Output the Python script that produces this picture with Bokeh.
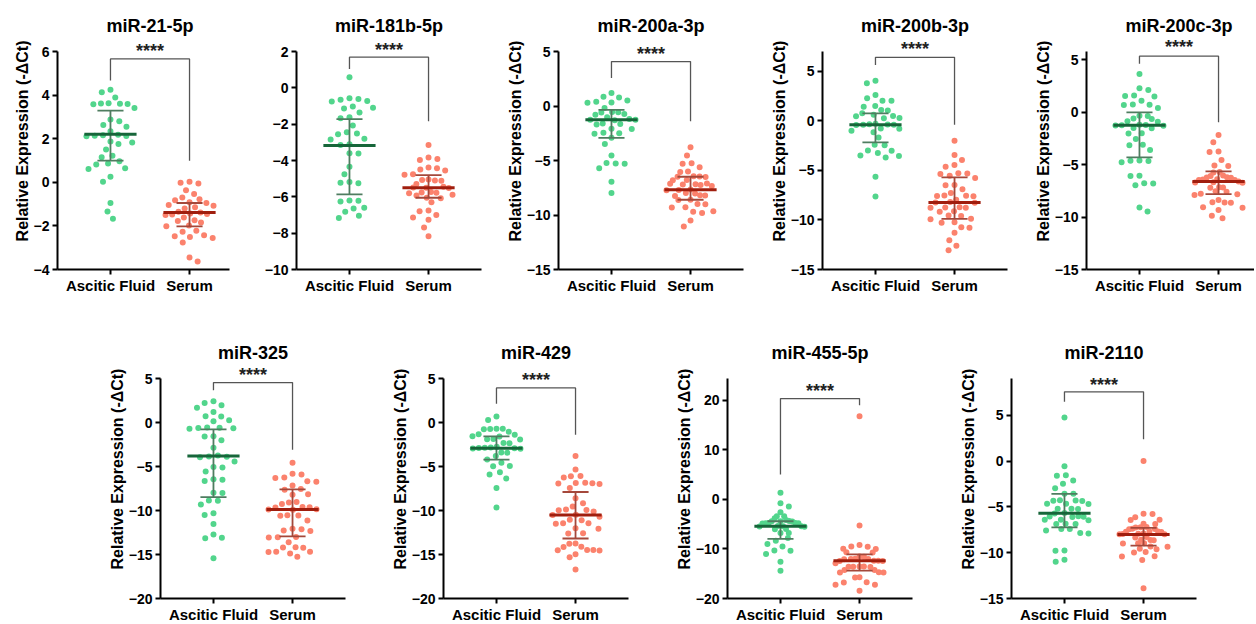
import numpy as np
from bokeh.plotting import figure
from bokeh.models import Range1d, FixedTicker, Label, Spacer
from bokeh.layouts import row, column
from bokeh.embed import file_html
from bokeh.resources import INLINE

titles = ["miR-21-5p", "miR-181b-5p", "miR-200a-3p", "miR-200b-3p", "miR-200c-3p",
          "miR-325", "miR-429", "miR-455-5p", "miR-2110"]
categories = ["Ascitic Fluid", "Serum"]
ylabel = "Relative Expression (-ΔCt)"

# ---- individual values (-ΔCt) ----
af_21 = [4.24, 4.13, 3.89, 3.62, 3.58, 3.60, 3.63, 3.59, 3.41, 2.88, 2.80, 2.63, 2.55, 2.34, 2.16, 2.12, 2.14, 2.18,
         2.11, 1.87, 1.83, 1.76, 1.51, 1.22, 1.15, 0.96, 0.86, 0.82, 0.64, 0.61, 0.26, 0.03, -0.95, -1.34, -1.67]
se_21 = [0.02, -0.02, -0.05, -0.36, -0.54, -0.70, -0.78, -0.82, -0.92, -0.95, -1.04, -1.08, -1.15, -1.20, -1.35, -1.39,
         -1.43, -1.45, -1.48, -1.50, -1.61, -1.74, -1.78, -1.84, -1.98, -2.02, -2.22, -2.27, -2.43, -2.47, -2.51, -2.55,
         -2.76, -3.45, -3.63]
af_181b = [0.58, -0.57, -0.62, -0.65, -0.72, -0.75, -1.03, -1.10, -1.14, -1.36, -1.62, -1.68, -2.08, -2.45, -2.52, -2.56,
           -2.80, -2.84, -3.10, -3.15, -3.60, -3.62, -4.34, -4.75, -5.18, -5.22, -5.25, -6.20, -6.22, -6.25, -6.60,
           -6.64, -6.82, -7.04, -7.17]
se_181b = [-3.15, -3.83, -3.92, -3.97, -4.38, -4.42, -4.50, -4.55, -4.75, -4.78, -5.05, -5.07, -5.10, -5.12, -5.30, -5.45,
           -5.48, -5.50, -5.52, -5.74, -5.76, -5.78, -5.80, -5.88, -5.92, -6.05, -6.08, -6.30, -6.75, -6.80, -7.00,
           -7.14, -7.26, -7.69, -8.17]
af_200a = [1.20, 0.85, 0.78, 0.50, 0.38, 0.33, 0.30, -0.18, -0.55, -0.58, -0.60, -0.73, -0.80, -1.03, -1.20, -1.25,
           -1.27, -1.30, -1.60, -1.65, -1.70, -2.08, -2.12, -2.45, -2.50, -2.55, -2.92, -3.48, -4.55, -5.24, -5.28,
           -5.30, -5.72, -6.94, -7.99]
se_200a = [-3.79, -4.55, -5.26, -5.30, -5.63, -6.00, -6.05, -6.45, -6.47, -6.50, -6.52, -6.78, -6.82, -7.10, -7.14, -7.18,
           -7.20, -7.25, -7.35, -7.65, -7.70, -7.72, -7.98, -8.02, -8.18, -8.22, -8.25, -8.60, -8.62, -8.98, -9.02,
           -9.28, -9.32, -9.65, -9.70, -9.82, -10.50, -11.05]
af_200b = [4.06, 3.79, 2.61, 2.27, 2.04, 2.02, 1.50, 1.43, 1.10, 1.05, 0.78, 0.62, 0.50, 0.47, 0.30, 0.27, -0.30, -0.35,
           -0.37, -0.38, -0.40, -0.42, -0.76, -0.80, -1.00, -1.16, -1.67, -2.40, -2.45, -3.00, -3.02, -3.25, -3.50,
           -3.55, -3.70, -5.64, -7.63]
se_200b = [-2.00, -3.45, -3.96, -4.46, -4.63, -5.28, -5.32, -5.37, -5.54, -5.77, -6.46, -6.50, -6.89, -7.29, -7.52, -7.55,
           -7.58, -7.60, -7.96, -8.20, -8.23, -8.26, -8.72, -8.74, -8.76, -8.78, -9.12, -9.16, -9.56, -9.60, -9.88,
           -9.92, -10.23, -10.27, -10.74, -10.78, -11.30, -12.04, -12.60, -13.05]
af_200c = [3.66, 2.29, 2.13, 1.60, 1.55, 1.50, 1.11, 0.75, 0.73, 0.70, 0.41, -0.32, -0.35, -0.60, -0.64, -0.86, -0.90,
           -1.20, -1.22, -1.24, -1.26, -1.28, -1.50, -1.53, -2.00, -2.02, -2.55, -3.09, -3.15, -3.60, -4.60, -4.62,
           -4.65, -4.77, -6.05, -6.08, -6.78, -6.80, -6.95, -9.08, -9.46]
se_200c = [-2.17, -2.87, -3.74, -3.78, -4.55, -5.08, -5.12, -5.70, -5.75, -6.03, -6.07, -6.20, -6.22, -6.24, -6.40, -6.42,
           -6.45, -6.47, -6.60, -6.68, -6.70, -6.72, -7.15, -7.17, -7.20, -7.53, -7.57, -7.78, -7.82, -7.90, -8.37,
           -8.58, -8.60, -8.62, -9.06, -9.10, -9.33, -9.87, -10.10]
af_325 = [2.42, 2.23, 1.96, 1.69, 1.20, 0.71, 0.68, 0.25, 0.14, -0.58, -0.60, -0.62, -0.65, -0.70, -1.55, -1.60, -2.03,
          -2.86, -3.75, -3.85, -3.90, -3.95, -4.42, -5.05, -5.10, -5.56, -6.45, -6.50, -6.66, -7.97, -8.00, -8.85,
          -8.90, -9.32, -10.30, -10.50, -11.53, -12.74, -13.10, -13.15, -15.44]
se_325 = [-4.57, -5.83, -5.90, -6.25, -6.30, -6.68, -6.72, -7.16, -7.55, -7.65, -8.16, -8.20, -9.04, -9.08, -9.25, -9.60,
          -9.63, -9.66, -9.87, -9.90, -9.92, -10.55, -10.58, -10.60, -11.15, -12.08, -12.12, -12.28, -12.32, -13.02,
          -13.05, -13.08, -13.60, -14.18, -14.20, -14.22, -14.68, -14.70, -14.72, -14.90, -15.25]
af_429 = [0.67, 0.29, -0.70, -0.72, -0.74, -0.76, -1.05, -1.34, -1.38, -1.55, -1.60, -1.88, -1.90, -1.92, -2.33, -2.37,
          -2.75, -2.85, -2.88, -2.90, -2.92, -2.95, -2.97, -3.40, -3.44, -3.80, -4.20, -4.57, -4.93, -4.97, -5.64,
          -5.91, -6.37, -7.44, -9.66]
se_429 = [-3.80, -5.34, -6.08, -6.12, -6.25, -6.85, -6.87, -6.89, -6.92, -7.00, -7.44, -8.60, -9.17, -9.55, -9.90, -9.93,
          -9.96, -10.10, -10.48, -10.52, -10.70, -11.05, -11.10, -11.44, -11.46, -11.50, -12.02, -12.06, -12.58,
          -12.62, -13.74, -13.78, -14.12, -14.16, -14.48, -14.50, -14.52, -14.55, -14.98, -15.30, -16.71]
af_455 = [1.32, -0.77, -1.44, -2.59, -3.40, -3.42, -3.80, -4.14, -4.38, -4.40, -4.42, -4.45, -4.75, -4.78, -4.80, -4.82,
          -4.85, -5.38, -5.40, -5.42, -5.45, -5.50, -5.96, -6.00, -6.77, -6.80, -7.78, -8.32, -9.00, -9.53, -10.32,
          -10.36, -11.00, -12.57, -14.39]
se_455 = [16.76, -5.29, -9.20, -9.50, -9.56, -9.98, -10.02, -10.66, -10.70, -11.54, -11.58, -12.00, -12.03, -12.05,
          -12.08, -12.38, -12.40, -12.42, -12.45, -12.90, -13.55, -13.56, -13.58, -13.60, -13.62, -14.25, -14.27,
          -14.70, -14.73, -14.76, -15.72, -15.76, -16.73, -16.77, -17.20, -17.24, -18.44]
af_2110 = [4.74, -0.58, -1.55, -1.60, -2.12, -2.48, -2.96, -3.56, -3.58, -4.28, -4.30, -4.33, -4.35, -4.65, -4.67, -4.70,
           -5.20, -5.22, -5.24, -5.68, -5.72, -6.04, -6.06, -6.08, -6.10, -6.40, -6.42, -6.45, -6.84, -6.86, -6.88,
           -7.41, -7.43, -7.59, -7.86, -7.90, -9.76, -9.80, -10.78, -11.00]
se_2110 = [0.00, -5.75, -5.79, -6.13, -6.40, -6.44, -6.84, -6.88, -7.20, -7.23, -7.26, -7.40, -7.42, -7.44, -7.68, -7.70,
           -7.72, -7.74, -7.92, -7.94, -7.96, -7.98, -8.00, -8.30, -8.34, -8.58, -8.61, -8.64, -8.96, -8.98, -9.00,
           -9.32, -9.36, -9.58, -9.62, -9.94, -9.98, -10.38, -10.42, -10.80, -13.87]

ascitic = [af_21, af_181b, af_200a, af_200b, af_200c, af_325, af_429, af_455, af_2110]
serum = [se_21, se_181b, se_200a, se_200b, se_200c, se_325, se_429, se_455, se_2110]

# ---- median with interquartile range, as drawn ----
af_med = [2.20, -3.18, -1.25, -0.39, -1.24, -3.81, -2.92, -5.42, -5.69]
af_q3 = [3.29, -1.72, -0.36, 0.76, 0.00, -0.78, -1.58, -4.41, -3.58]
af_q1 = [0.99, -5.87, -2.93, -2.17, -4.30, -8.49, -4.22, -7.98, -7.23]
se_med = [-1.38, -5.50, -7.68, -8.23, -6.60, -9.89, -10.50, -12.40, -8.03]
se_q3 = [-0.95, -4.80, -6.49, -5.70, -5.64, -7.60, -7.90, -11.10, -7.30]
se_q1 = [-2.02, -6.05, -8.60, -9.90, -7.80, -12.93, -13.18, -14.39, -9.23]

# ---- significance brackets ----
sig_text = "****"
br_top = [5.66, 1.69, 4.08, 6.41, 5.35, 4.54, 3.93, 20.34, 7.55]
br_left = [4.67, 1.04, 2.58, 5.64, 4.62, 3.67, 2.13, 5.03, 6.46]
br_right = [0.99, -1.84, -1.40, -0.39, -0.96, -3.09, -1.39, 18.99, 2.37]
star_y = [6.18, 2.30, 5.10, 7.60, 6.55, 5.80, 5.25, 22.60, 8.70]

# ---- axes ----
y_min = [-4, -10, -15, -15, -15, -20, -20, -20, -15]
y_max = [6, 2, 5, 7, 5.8, 5, 5, 24.4, 9]
y_step = [2, 2, 5, 5, 5, 5, 5, 10, 5]
show_ylabel = [True, False, True, True, True, True, True, True, True]

# ---- layout / style ----
FONT = "Liberation Sans"
GREEN, GREEN_MED, GREEN_ERR = "#52d58c", "#17663a", "#4f7d60"
RED, RED_MED, RED_ERR = "#fb826d", "#a01e0e", "#a4483b"
PX_PER_X = 79.06
EXT = 39          # extra frame pixels above the axis top (stars and title)
TITLE_DOWN = 13   # title centre, pixels below the frame top

top_mbl = [57, 58, 58, 58, 58]
top_fw = [172, 185, 185, 185, 168]
top_mbr = [9, 19, 21, 21, 0]
bot_lead = 102
bot_mbl = [58, 58, 58, 58]
bot_fw = [185, 185, 185, 185]
bot_mbr = [40, 41, 41, 58]


def swarm(vals, ppu_y, D=9.0, L=24.0):
    vals = np.asarray(vals, dtype=float)
    n = len(vals)
    order = np.argsort(-vals, kind="stable")
    ys = vals * ppu_y
    placed = []
    xs = np.zeros(n)
    for cnt, i in enumerate(order):
        y = ys[i]
        ivs = []
        for (px, py) in placed:
            dy = abs(py - y)
            if dy < D:
                w = np.sqrt(D * D - dy * dy)
                ivs.append((px - w, px + w))
        cands = [0.0] + [a for a, b in ivs] + [b for a, b in ivs]
        sgn = 1 if cnt % 2 else -1
        cands.sort(key=lambda c: (round(abs(c), 4), sgn * c))
        for c in cands:
            if all(not (a + 1e-6 < c < b - 1e-6) for a, b in ivs):
                xs[i] = c
                break
        placed.append((xs[i], y))
    out = xs.copy()
    for i in range(n):
        band = np.abs(ys - ys[i]) < D
        W = np.max(np.abs(xs[band]))
        if W > L:
            out[i] = xs[i] * L / W
    return out / PX_PER_X


def panel(k, fw, fh, mbl, mbr, mbt, mbb):
    ppu_y = fh / (y_max[k] - y_min[k])
    x_hi = -0.67 + fw / PX_PER_X
    y_end = y_max[k] + EXT / ppu_y
    p = figure(frame_width=fw, frame_height=fh + EXT, x_range=Range1d(-0.67, x_hi),
               y_range=Range1d(y_min[k], y_end), output_backend="svg", toolbar_location=None,
               min_border_left=mbl, min_border_right=mbr, min_border_top=mbt, min_border_bottom=mbb,
               outline_line_color=None, background_fill_color="white", border_fill_color="white")
    p.grid.visible = False

    ax = p.xaxis[0]
    ax.ticker = FixedTicker(ticks=[0, 1])
    ax.major_label_overrides = {0: categories[0], 1: categories[1]}
    ay = p.yaxis[0]
    ay.bounds = (y_min[k], y_max[k])
    t = y_min[k]
    ticks = []
    while t <= y_max[k] + 1e-9:
        ticks.append(t)
        t += y_step[k]
    ay.ticker = FixedTicker(ticks=ticks)
    for a in (ax, ay):
        a.axis_line_width = 2
        a.axis_line_color = "black"
        a.major_tick_line_width = 2
        a.major_tick_out = 5
        a.major_tick_in = 0
        a.minor_tick_line_color = None
        a.major_label_text_font = FONT
        a.major_label_text_font_style = "bold"
        a.major_label_text_color = "black"
    ax.major_label_text_font_size = "15px"
    ax.major_label_standoff = 2
    ay.major_label_text_font_size = "14px"
    ay.major_label_standoff = 3
    if show_ylabel[k]:
        ay.axis_label = ylabel
        ay.axis_label_text_font = FONT
        ay.axis_label_text_font_size = "16px"
        ay.axis_label_text_font_style = "bold"
        ay.axis_label_text_color = "black"
        ay.axis_label_standoff = 0

    groups = [(0, ascitic[k], GREEN, GREEN_MED, GREEN_ERR, af_med[k], af_q1[k], af_q3[k]),
              (1, serum[k], RED, RED_MED, RED_ERR, se_med[k], se_q1[k], se_q3[k])]
    for cx, vals, col, mcol, ecol, med, q1, q3 in groups:
        xs = cx + swarm(vals, ppu_y)
        p.scatter(x=xs, y=vals, size=6, fill_color=col, line_color=None)
    for cx, vals, col, mcol, ecol, med, q1, q3 in groups:
        p.segment(x0=[cx], x1=[cx], y0=[q1], y1=[q3], line_color=ecol, line_width=1.8)
        p.segment(x0=[cx - 0.165, cx - 0.165], x1=[cx + 0.165, cx + 0.165], y0=[q1, q3], y1=[q1, q3],
                  line_color=ecol, line_width=1.8)
        p.segment(x0=[cx - 0.33], x1=[cx + 0.33], y0=[med], y1=[med], line_color=mcol, line_width=3)

    p.line(x=[0, 0, 1, 1], y=[br_left[k], br_top[k], br_top[k], br_right[k]],
           line_color="#555555", line_width=1.3)
    p.add_layout(Label(x=0.5, y=star_y[k] - 3.5 / ppu_y, text=sig_text, text_align="center",
                       text_baseline="middle", text_font=FONT, text_font_size="18px",
                       text_font_style="bold", text_color="#222222"))
    p.add_layout(Label(x=0.5, y=y_end - TITLE_DOWN / ppu_y, text=titles[k], text_align="center",
                       text_baseline="middle", text_font=FONT, text_font_size="18px",
                       text_font_style="bold", text_color="black"))
    return p


top_figs = [panel(k, top_fw[k], 218, top_mbl[k], top_mbr[k], 12, 39) for k in range(5)]
bot_figs = [panel(5 + j, bot_fw[j], 220, bot_mbl[j], bot_mbr[j], 31, 24) for j in range(4)]

layout = column(row(*top_figs, spacing=0),
                row(Spacer(width=bot_lead, height=10), *bot_figs, spacing=0),
                spacing=0)

with open("out.html", "w") as f:
    f.write(file_html(layout, INLINE))
